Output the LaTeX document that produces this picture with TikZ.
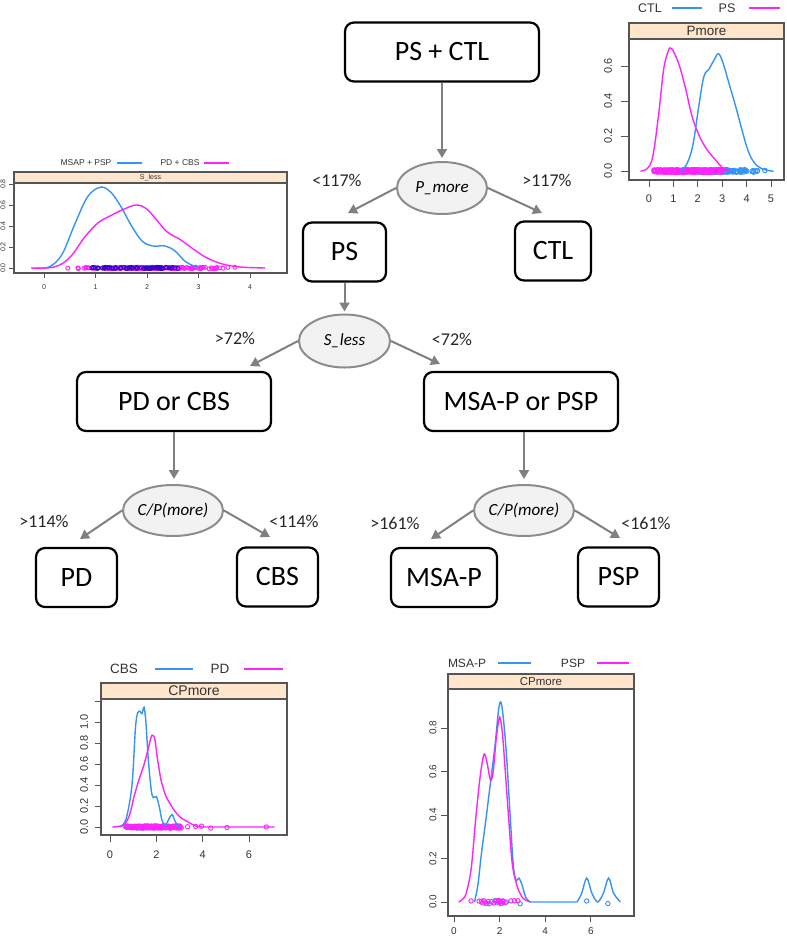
\documentclass[tikz,border=0pt]{standalone}
\usepackage{fontspec}
\setmainfont{Carlito}
\newfontfamily\plotfont{Liberation Sans}
\usetikzlibrary{arrows.meta,shapes.geometric}
\definecolor{lblue}{HTML}{3593F5}
\definecolor{lmag}{HTML}{FF22FF}
\definecolor{stripc}{HTML}{FFE5CC}
\definecolor{arrgray}{HTML}{808080}
\definecolor{ellfill}{HTML}{F2F2F2}
\definecolor{ellline}{HTML}{8C8C8C}
\definecolor{axgray}{HTML}{555555}
\begin{document}
\begin{tikzpicture}[x=1pt,y=-1pt,
  box/.style={draw=black, line width=2.2pt, rounded corners=9pt, fill=white, inner sep=0pt,
    minimum height=59pt, font=\fontsize{28}{30}\selectfont},
  split/.style={ellipse, draw=ellline, fill=ellfill, line width=2pt, inner sep=0pt,
    font=\itshape\fontsize{17}{19}\selectfont},
  lab/.style={font=\fontsize{18}{20}\selectfont, text=black!85, inner sep=0pt},
  arr/.style={draw=arrgray, line width=2pt, -{Triangle[length=9pt,width=10pt]}},
  bl/.style={draw=lblue, line width=1.4pt},
  mg/.style={draw=lmag, line width=1.4pt},
  rb/.style={draw=lblue, line width=0.9pt},
  rm/.style={draw=lmag, line width=0.9pt},
  frame/.style={draw=axgray, line width=1.1pt},
  tck/.style={draw=axgray, line width=0.9pt},
  ptxt/.style={font=\plotfont\fontsize{#1}{#1}\selectfont, text=black!80, inner sep=0pt},
  ptxt/.default=11
]
\useasboundingbox (0,0) rectangle (787,938);
\pgfmathsetseed{7}

% ---------------- tree ----------------
\node[box, minimum width=194pt] (top) at (442,52) {PS + CTL};
\node[split, minimum width=90pt, minimum height=52pt] (pmore) at (442,188) {P\_more};
\node[lab] (l117a) at (337,180) {<117\%};
\node[lab] (l117b) at (547,180) {>117\%};
\node[box, minimum width=83pt] (ps) at (344.5,252) {PS};
\node[box, minimum width=76pt] (ctl) at (553,251) {CTL};
\node[split, minimum width=91pt, minimum height=53pt] (sless) at (344.5,341) {S\_less};
\node[lab] (l72a) at (235,338) {>72\%};
\node[lab] (l72b) at (452,339) {<72\%};
\node[box, minimum width=194pt] (pdcbs) at (174,401.5) {PD or CBS};
\node[box, minimum width=194pt] (msapsp) at (521,401.5) {MSA-P or PSP};
\node[split, minimum width=88pt, minimum height=51pt] (cp1) at (173,510.5) {C/P(more)};
\node[split, minimum width=88pt, minimum height=51pt] (cp2) at (524,510.5) {C/P(more)};
\node[lab] (l114a) at (44,521) {>114\%};
\node[lab] (l114b) at (294,521) {<114\%};
\node[lab] (l161a) at (395,523) {>161\%};
\node[lab] (l161b) at (646,523) {<161\%};
\node[box, minimum width=81pt] (pd) at (76.5,577.5) {PD};
\node[box, minimum width=81pt] (cbs) at (277.5,577) {CBS};
\node[box, minimum width=106pt] (msap) at (444,577.5) {MSA-P};
\node[box, minimum width=81pt] (psp) at (618.5,577) {PSP};

\coordinate (a1) at (348,213);
\coordinate (a2) at (542,213);
\coordinate (a3) at (250,366);
\coordinate (a4) at (440,364);
\coordinate (a5) at (80,539);
\coordinate (a6) at (270,537);
\coordinate (a7) at (431,539);
\coordinate (a8) at (620,538);

\draw[arr, shorten >=3pt] (top.south) -- (top.south |- pmore.north);
\draw[arr] (pmore.west) -- (a1);
\draw[arr] (pmore.east) -- (a2);
\draw[arr, shorten >=2pt] (ps.south) -- (ps.south |- sless.north);
\draw[arr] (sless.west) -- (a3);
\draw[arr] (sless.east) -- (a4);
\draw[arr, shorten >=5pt] (pdcbs.south) -- (pdcbs.south |- cp1.north);
\draw[arr, shorten >=5pt] (msapsp.south -| cp2.north) -- (cp2.north);
\draw[arr] (cp1.west) -- (a5);
\draw[arr] (cp1.east) -- (a6);
\draw[arr] (cp2.west) -- (a7);
\draw[arr] (cp2.east) -- (a8);

% ---------------- plot 1: Pmore ----------------
\node[ptxt=12.5] (p1la) at (650,8) {CTL};
\draw[bl] (672,8) -- (702,8);
\node[ptxt=12.5] (p1lb) at (727,8) {PS};
\draw[mg] (749,8) -- (780,8);
\draw[frame, fill=stripc] (629,23) rectangle (784,39);
\node[ptxt=13.5] (p1s) at (706.5,31) {Pmore};
\draw[frame] (629,39) rectangle (784,180);
\foreach \v/\t in {0/0.0,0.2/0.2,0.4/0.4,0.6/0.6}{
  \draw[tck] (621,{171-175*\v}) -- (629,{171-175*\v});
  \node[ptxt=11, rotate=90] at (608,{171-175*\v}) {\t};
}
\foreach \v in {0,...,5}{
  \draw[tck] ({649+24.4*\v},180) -- ({649+24.4*\v},187);
  \node[ptxt=11] at ({649+24.4*\v},199) {\v};
}
\begin{scope}[shift={(649,171)}, x=24.4pt, y=175pt]
  \foreach \i in {1,...,140}{
    \pgfmathsetmacro\rx{1.4+3.2*(rnd+rnd)/2}
    \pgfmathsetmacro\ry{0.014*(rnd-0.5)}
    \draw[rb] (\rx,\ry) circle[radius=2.3pt];
  }
  \foreach \i in {1,...,220}{
    \pgfmathsetmacro\rx{0.2+2.8*rnd}
    \pgfmathsetmacro\ry{0.014*(rnd-0.5)}
    \draw[rm] (\rx,\ry) circle[radius=2.3pt];
  }
  \draw[rb] (4.35,0) circle[radius=2.3pt];
  \draw[rb] (4.75,0.003) circle[radius=2.3pt];
  \draw[mg] plot[smooth, tension=0.6] coordinates {(-0.35,0) (-0.1,0.01) (0.15,0.08) (0.4,0.33) (0.6,0.58) (0.8,0.69) (0.92,0.70) (1.05,0.67) (1.25,0.6) (1.5,0.47) (1.75,0.32) (2.0,0.22) (2.25,0.15) (2.5,0.1) (2.75,0.06) (3.0,0.02) (3.3,0)};
  \draw[bl] plot[smooth, tension=0.6] coordinates {(1.3,0) (1.55,0.04) (1.8,0.15) (2.05,0.38) (2.25,0.54) (2.45,0.58) (2.65,0.63) (2.85,0.67) (3.05,0.61) (3.3,0.49) (3.55,0.37) (3.8,0.24) (4.05,0.12) (4.3,0.05) (4.6,0.015) (5.0,0) (5.1,0)};
\end{scope}

% ---------------- plot 2: S_less ----------------
\node[ptxt=8.5] (p2la) at (86,163) {MSAP + PSP};
\draw[bl] (117,163) -- (142,163);
\node[ptxt=8.5] (p2lb) at (180,163) {PD + CBS};
\draw[mg] (204,163) -- (229,163);
\draw[frame, fill=stripc] (14,172) rectangle (287,183);
\node[ptxt=7] (p2s) at (150.5,177.5) {S\_less};
\draw[frame] (14,183) rectangle (287,273);
\foreach \v/\t in {0/0.0,0.2/0.2,0.4/0.4,0.6/0.6,0.8/0.8}{
  \draw[tck] (9,{268-105*\v}) -- (14,{268-105*\v});
  \node[ptxt=7, rotate=90] at (3,{268-105*\v}) {\t};
}
\foreach \v in {0,...,4}{
  \draw[tck] ({44+51.5*\v},273) -- ({44+51.5*\v},278);
  \node[ptxt=7] at ({44+51.5*\v},287) {\v};
}
\begin{scope}[shift={(44,268)}, x=51.5pt, y=105pt]
  \foreach \i in {1,...,200}{
    \pgfmathsetmacro\rx{0.35+3.5*(rnd+rnd)/2}
    \pgfmathsetmacro\ry{0.014*(rnd-0.5)}
    \draw[rm] (\rx,\ry) circle[radius=2pt];
  }
  \foreach \i in {1,...,70}{
    \pgfmathsetmacro\rx{0.55+2.5*(rnd+rnd)/2}
    \pgfmathsetmacro\ry{0.014*(rnd-0.5)}
    \draw[draw=blue!60!violet, line width=0.8pt] (\rx,\ry) circle[radius=2pt];
  }
  \draw[bl] plot[smooth, tension=0.6] coordinates {(-0.15,0) (0.1,0.01) (0.35,0.13) (0.6,0.42) (0.85,0.68) (1.1,0.77) (1.3,0.72) (1.5,0.58) (1.7,0.4) (1.9,0.26) (2.1,0.21) (2.35,0.21) (2.55,0.16) (2.75,0.06) (3.0,0)};
  \draw[mg] plot[smooth, tension=0.6] coordinates {(-0.25,0) (0.2,0.01) (0.5,0.1) (0.8,0.3) (1.05,0.43) (1.3,0.5) (1.55,0.56) (1.8,0.6) (2.0,0.56) (2.2,0.45) (2.4,0.34) (2.65,0.27) (2.9,0.18) (3.15,0.1) (3.45,0.04) (3.8,0.01) (4.3,0)};
\end{scope}

% ---------------- plot 3: CBS / PD ----------------
\node[ptxt=13.5] (p3la) at (124,669) {CBS};
\draw[bl] (155,669) -- (193,669);
\node[ptxt=13.5] (p3lb) at (220,669) {PD};
\draw[mg] (244,669) -- (283,669);
\draw[frame, fill=stripc] (101,683) rectangle (287,699);
\node[ptxt=14] (p3s) at (194,691) {CPmore};
\draw[frame] (101,699) rectangle (287,835);
\foreach \v/\t in {0/0.0,0.2/0.2,0.4/0.4,0.6/0.6,0.8/0.8,1.0/1.0}{
  \draw[tck] (95,{827-105*\v}) -- (101,{827-105*\v});
  \node[ptxt=11, rotate=90] at (84,{827-105*\v}) {\t};
}
\draw[tck] (95,701) -- (101,701);
\foreach \v in {0,2,4,6}{
  \draw[tck] ({110+23.17*\v},835) -- ({110+23.17*\v},842);
  \node[ptxt=11] at ({110+23.17*\v},855) {\v};
}
\begin{scope}[shift={(110,827)}, x=23.17pt, y=105pt]
  \foreach \i in {1,...,30}{
    \pgfmathsetmacro\rx{0.5+2.4*(rnd+rnd)/2}
    \pgfmathsetmacro\ry{0.02*(rnd-0.5)}
    \draw[rb] (\rx,\ry) circle[radius=2.2pt];
  }
  \foreach \i in {1,...,160}{
    \pgfmathsetmacro\rx{0.7+2.4*rnd}
    \pgfmathsetmacro\ry{0.02*(rnd-0.5)}
    \draw[rm] (\rx,\ry) circle[radius=2.2pt];
  }
  \foreach \p/\q in {3.35/0.003,3.7/0.005,3.95/0.008,4.35/-0.01,5.05/-0.005,6.75/0}{
    \draw[rm] (\p,\q) circle[radius=2.2pt];
  }
  \draw[bl] plot[smooth, tension=0.5] coordinates {(0.45,0) (0.7,0.08) (0.95,0.4) (1.1,0.95) (1.2,1.09) (1.3,1.1) (1.38,1.08) (1.47,1.14) (1.55,1.0) (1.65,0.65) (1.78,0.35) (1.87,0.28) (2.0,0.29) (2.12,0.2) (2.25,0.06) (2.4,0.02) (2.55,0.08) (2.68,0.12) (2.8,0.06) (2.95,0)};
  \draw[mg] plot[smooth, tension=0.5] coordinates {(0.1,0) (0.6,0.02) (0.85,0.12) (1.05,0.3) (1.25,0.45) (1.45,0.58) (1.62,0.72) (1.8,0.87) (1.93,0.84) (2.05,0.65) (2.2,0.45) (2.4,0.3) (2.6,0.22) (2.8,0.15) (3.05,0.09) (3.35,0.05) (3.7,0.01) (4.0,0)} -- (7.1,0);
\end{scope}

% ---------------- plot 4: MSA-P / PSP ----------------
\node[ptxt=12] (p4la) at (467,663) {MSA-P};
\draw[bl] (498,663) -- (531,663);
\node[ptxt=12] (p4lb) at (573,663) {PSP};
\draw[mg] (597,663) -- (629,663);
\draw[frame, fill=stripc] (448,674) rectangle (634,689);
\node[ptxt=11.5] (p4s) at (541,681.5) {CPmore};
\draw[frame] (448,689) rectangle (634,916);
\foreach \v/\t in {0/0.0,0.2/0.2,0.4/0.4,0.6/0.6,0.8/0.8}{
  \draw[tck] (441,{902-217.5*\v}) -- (448,{902-217.5*\v});
  \node[ptxt=10, rotate=90] at (433,{902-217.5*\v}) {\t};
}
\foreach \v in {0,2,4,6}{
  \draw[tck] ({454+22.8*\v},916) -- ({454+22.8*\v},922);
  \node[ptxt=10] at ({454+22.8*\v},931) {\v};
}
\begin{scope}[shift={(454,902)}, x=22.8pt, y=217.5pt]
  \foreach \p/\q in {1.2/0.004,1.45/-0.006,1.65/0.002,1.8/0.006,1.9/-0.004,2.0/0.005,2.05/-0.007,2.15/0.003,2.3/0.0,2.9/-0.008,5.82/0.005,6.75/-0.007}{
    \draw[rb] (\p,\q) circle[radius=2.2pt];
  }
  \foreach \p/\q in {0.75/0.005,1.1/0.004,1.25/-0.004,1.3/0.006,1.35/0,1.4/-0.006,1.5/0.003,1.55/-0.008,1.75/-0.004,1.85/0.004,1.95/0.007,2.0/-0.002,2.05/0.003,2.1/-0.006,2.15/0.005,2.25/-0.003,2.5/0.005,2.65/0.006,2.8/0.006}{
    \draw[rm] (\p,\q) circle[radius=2.2pt];
  }
  \draw[bl] plot[smooth, tension=0.5] coordinates {(0.9,0) (1.05,0.08) (1.2,0.22) (1.4,0.38) (1.6,0.55) (1.8,0.72) (1.95,0.88) (2.05,0.92) (2.15,0.86) (2.3,0.68) (2.45,0.42) (2.6,0.17) (2.72,0.1) (2.85,0.11) (2.98,0.08) (3.15,0.02) (3.35,0)} -- (5.4,0)
    plot[smooth, tension=0.5] coordinates {(5.4,0) (5.6,0.04) (5.82,0.11) (6.05,0.04) (6.3,0) (6.55,0.04) (6.78,0.11) (7.0,0.04) (7.3,0)};
  \draw[mg] plot[smooth, tension=0.5] coordinates {(0.2,0) (0.5,0.03) (0.75,0.15) (0.95,0.38) (1.15,0.58) (1.32,0.68) (1.45,0.64) (1.6,0.56) (1.72,0.6) (1.85,0.75) (2.0,0.85) (2.12,0.78) (2.25,0.6) (2.4,0.38) (2.55,0.18) (2.7,0.1) (2.85,0.05) (3.05,0.015) (3.35,0)};
\end{scope}
\end{tikzpicture}
\end{document}
